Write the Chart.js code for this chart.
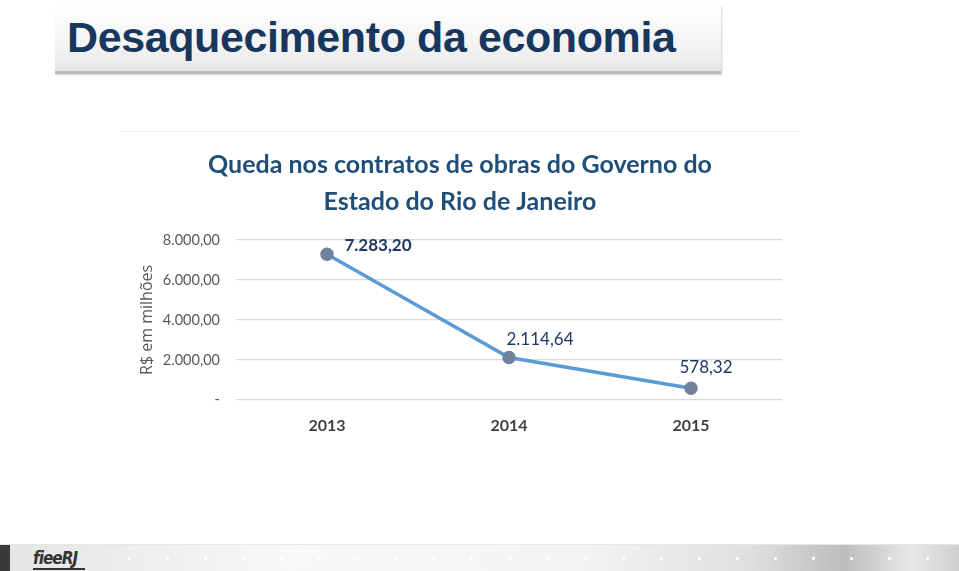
<!DOCTYPE html>
<html>
<head>
<meta charset="utf-8">
<script src="https://cdn.jsdelivr.net/npm/chart.js"></script>
<style>
  html, body { margin: 0; padding: 0; background: #fff; }
  body { width: 959px; height: 571px; position: relative; overflow: hidden; }
  .header {
    position: absolute; left: 55px; top: 5px; width: 666px; height: 66px;
    background: linear-gradient(#ffffff, #f1f1f1 70%, #e6e6e6);
    border-bottom: 3px solid #b9b9b9;
    box-shadow: 1px 1px 2px #d0d0d0;
  }
  .header span {
    position: absolute; left: 12px; top: 8px;
    font: bold 43px "Liberation Sans", Arial, sans-serif; color: #17375e;
    letter-spacing: -0.4px; white-space: nowrap;
  }
  .frame { position: absolute; left: 120px; top: 131px; width: 680px; height: 1px; background: #f0f0f0; }
  #wrap { position: absolute; left: 120px; top: 132px; width: 680px; height: 311px; }
  .footer {
    position: absolute; left: 0; top: 544px; width: 959px; height: 27px;
    background: linear-gradient(90deg, #e4e4e4, #f8f8f8 30%, #f4f4f4 60%, #e0e0e0 78%, #bdbdbd 88%, #e8e8e8 95%, #d0d0d0);
    border-top: 1px solid #e6e6e6;
  }
  .footer .dark { position: absolute; left: 0; top: 0; width: 10px; height: 27px; background: #3a3a3a; }
  .footer .logo {
    position: absolute; left: 33px; top: 3px; width: 52px; height: 20px;
    font: bold italic 17px "DejaVu Sans Condensed", sans-serif; color: #333;
    line-height: 20px; border-bottom: 2px solid #333; letter-spacing: -1px;
  }
  .footer .dot { position: absolute; top: 12px; width: 3px; height: 3px; background: #fff; border-radius: 1px; }
</style>
</head>
<body>
<div class="header"><span>Desaquecimento da economia</span></div>
<div class="frame"></div>
<div id="wrap"><canvas id="c"></canvas></div>
<div class="footer" id="footer"><div class="dark"></div><div class="logo">fieeRJ</div></div>
<script>
const years = ['2013', '2014', '2015'];
const contratos = [7283.20, 2114.64, 578.32];
const yTicks = [0, 2000, 4000, 6000, 8000];
const chartTitle = ['Queda nos contratos de obras do Governo do', 'Estado do Rio de Janeiro'];
const yTitle = 'R$ em milhões';

const FONT = 'Lato, "Open Sans", sans-serif';

const fmt = v => v.toLocaleString('pt-BR', { minimumFractionDigits: 2, maximumFractionDigits: 2 });

// footer dots
const footer = document.getElementById('footer');
for (let x = 128; x < 959; x += 38) {
  const d = document.createElement('div');
  d.className = 'dot';
  d.style.left = x + 'px';
  footer.appendChild(d);
}

const labelOffsets = [[51, -9], [31, -18], [15, -21]];
const labelWeights = ['bold', 'normal', 'normal'];

const dataLabels = {
  id: 'dataLabels',
  afterDatasetsDraw(chart) {
    const ctx = chart.ctx;
    const meta = chart.getDatasetMeta(0);
    ctx.save();
    ctx.fillStyle = '#1f3864';
    ctx.textAlign = 'center';
    ctx.textBaseline = 'middle';
    meta.data.forEach((pt, i) => {
      ctx.font = labelWeights[i] + ' 17px ' + FONT;
      ctx.fillText(fmt(contratos[i]), pt.x + labelOffsets[i][0], pt.y + labelOffsets[i][1]);
    });
    ctx.restore();
  }
};

new Chart(document.getElementById('c'), {
  type: 'line',
  data: {
    labels: years,
    datasets: [{
      data: contratos,
      borderColor: '#5b9bd5',
      borderWidth: 3.5,
      pointRadius: 5,
      pointBackgroundColor: '#71839c',
      pointBorderColor: '#71839c',
      tension: 0
    }]
  },
  options: {
    responsive: true,
    maintainAspectRatio: false,
    animation: false,
    layout: { padding: { left: 18, right: 18, top: 14, bottom: 0 } },
    plugins: {
      legend: { display: false },
      tooltip: { enabled: false },
      title: {
        display: true,
        text: chartTitle,
        color: '#1f4e79',
        font: { family: FONT, size: 25, weight: 'bold', lineHeight: 1.5 },
        padding: { top: 0, bottom: 19 }
      }
    },
    scales: {
      x: {
        offset: true,
        grid: { display: false },
        border: { display: false },
        ticks: { color: '#404040', font: { family: FONT, size: 16, weight: 'bold' }, padding: 8 }
      },
      y: {
        min: 0,
        max: 8000,
        afterBuildTicks: s => { s.ticks = yTicks.map(v => ({ value: v })); },
        afterFit: s => { s.width = 98; },
        grid: { color: '#d9d9d9', lineWidth: 1.3, drawTicks: false },
        border: { display: false },
        ticks: {
          color: '#595959',
          font: { family: FONT, size: 14.5 },
          padding: 16,
          callback: v => v === 0 ? '-' : fmt(v)
        },
        title: {
          display: true,
          text: yTitle,
          color: '#595959',
          font: { family: '"Open Sans", sans-serif', size: 16 },
          padding: { top: 0, bottom: 0 }
        }
      }
    }
  },
  plugins: [dataLabels]
});
</script>
</body>
</html>
